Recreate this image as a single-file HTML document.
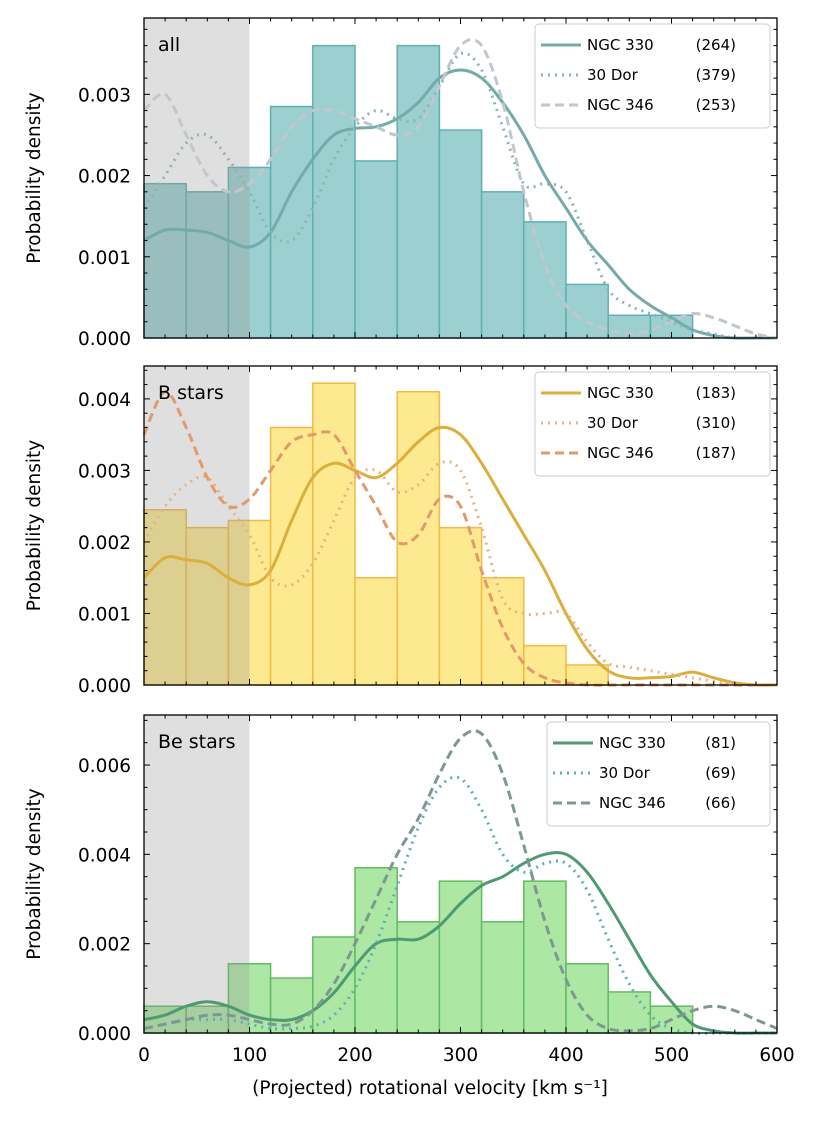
<!DOCTYPE html>
<html><head><meta charset="utf-8"><style>
body{margin:0;background:#fff;}
svg{display:block;font-family:"DejaVu Sans","Liberation Sans",sans-serif;}
</style></head><body>
<svg id="fig" width="823" height="1134" viewBox="0 0 823 1134" xmlns="http://www.w3.org/2000/svg"></svg>
<script>
const xGrid=[0,20,40,60,80,100,120,140,160,180,200,220,240,260,280,300,320,340,360,380,400,420,440,460,480,500,520,540,560,580,600];
const binEdges=[0,40,80,120,160,200,240,280,320,360,400,440,480,520];
const xTicks=[0,100,200,300,400,500,600];
// panel 1: all
const histAll=[0.0019,0.0018,0.0021,0.00285,0.0036,0.00218,0.0036,0.00256,0.0018,0.00143,0.00066,0.00028,0.00028];
const allN330=[0.0012,0.00133,0.00133,0.0013,0.0012,0.00112,0.0013,0.0018,0.0022,0.0025,0.00258,0.0026,0.0027,0.0029,0.0032,0.0033,0.0032,0.0029,0.0025,0.002,0.0016,0.0012,0.0009,0.0006,0.0004,0.00025,0.0001,0.00003,0,0,0];
const all30D=[0.0016,0.002,0.0024,0.0025,0.0022,0.0018,0.0013,0.0012,0.0016,0.0022,0.0026,0.0028,0.0027,0.0027,0.0031,0.0035,0.0033,0.0026,0.0019,0.0019,0.0018,0.0012,0.0006,0.0004,0.0003,0.0002,0.0001,0.00005,0,0,0];
const allN346=[0.0028,0.003,0.0025,0.002,0.0018,0.0019,0.0022,0.0026,0.0028,0.0028,0.0027,0.0026,0.0025,0.0026,0.0031,0.0036,0.0036,0.0029,0.0018,0.0009,0.0004,0.0002,0.0001,0.00005,0.0001,0.0002,0.0003,0.00025,0.00015,0.00005,0];
// panel 2: B stars
const histB=[0.00245,0.0022,0.0023,0.0036,0.00422,0.0015,0.0041,0.0022,0.0015,0.00055,0.00028,0,0];
const bN330=[0.0015,0.00178,0.00175,0.0017,0.0015,0.0014,0.0016,0.0023,0.0029,0.0031,0.003,0.0029,0.0031,0.0034,0.0036,0.0035,0.0031,0.0026,0.0021,0.0016,0.001,0.0005,0.0002,0.0001,0.0001,0.00012,0.00018,0.0001,0.00003,0,0];
const b30D=[0.002,0.0025,0.0028,0.0029,0.0025,0.0021,0.0015,0.0014,0.0017,0.0023,0.0029,0.003,0.0027,0.0028,0.0031,0.003,0.0022,0.0012,0.001,0.001,0.001,0.0006,0.0003,0.00025,0.0002,0.00015,0.0001,0.00005,0,0,0];
const bN346=[0.0035,0.0041,0.0036,0.0029,0.0025,0.0026,0.003,0.0034,0.0035,0.0035,0.003,0.0025,0.002,0.0021,0.0026,0.0025,0.0016,0.0008,0.0003,0.0001,0.00003,0,0,0,0,0,0,0,0,0,0];
// panel 3: Be stars
const histBe=[0.0006,0.0006,0.00155,0.00123,0.00215,0.0037,0.00249,0.0034,0.00249,0.0034,0.00155,0.00092,0.0006];
const beN330=[0.0003,0.0004,0.0006,0.0007,0.0006,0.0004,0.0003,0.0003,0.0005,0.0009,0.0015,0.002,0.0021,0.0021,0.0024,0.0029,0.0033,0.0035,0.0038,0.004,0.004,0.0036,0.0029,0.0021,0.0013,0.0007,0.0002,0.00005,0,0,0];
const be30D=[0.0001,0.0002,0.0003,0.0003,0.0003,0.0002,0.0001,0.0001,0.00015,0.0004,0.001,0.002,0.0033,0.0046,0.0055,0.0057,0.005,0.004,0.0036,0.0038,0.0038,0.0032,0.0021,0.0011,0.0004,0.0001,0,0,0,0,0];
const beN346=[0.0001,0.0002,0.0003,0.0004,0.0004,0.0003,0.0002,0.0002,0.0005,0.0011,0.002,0.003,0.004,0.0048,0.0058,0.0066,0.0067,0.0058,0.0042,0.0025,0.0012,0.0004,0.0001,0.00005,0.0001,0.0003,0.0005,0.0006,0.0005,0.0003,0.0001];
const legCounts1=["(264)","(379)","(253)"],legCounts2=["(183)","(310)","(187)"],legCounts3=["(81)","(69)","(66)"];

const NS="http://www.w3.org/2000/svg";
const svg=document.getElementById('fig');
function mk(tag,attrs,parent){const e=document.createElementNS(NS,tag);for(const k in attrs)e.setAttribute(k,attrs[k]);(parent||svg).appendChild(e);return e;}
const X0=144,X1=777;
function xs(v){return X0+(v/600)*(X1-X0);}
function smooth(pts){
 let d="M"+pts[0][0].toFixed(1)+","+pts[0][1].toFixed(1);
 for(let i=0;i<pts.length-1;i++){
  const p0=pts[Math.max(0,i-1)],p1=pts[i],p2=pts[i+1],p3=pts[Math.min(pts.length-1,i+2)];
  const c1=[p1[0]+(p2[0]-p0[0])/6,p1[1]+(p2[1]-p0[1])/6];
  const c2=[p2[0]-(p3[0]-p1[0])/6,p2[1]-(p3[1]-p1[1])/6];
  d+="C"+c1.map(v=>v.toFixed(1)).join(",")+" "+c2.map(v=>v.toFixed(1)).join(",")+" "+p2[0].toFixed(1)+","+p2[1].toFixed(1);
 }
 return d;
}

const panels=[
 {top:18,bot:338,ymax:0.00394,yTicks:[0,0.001,0.002,0.003],minor:0.0002,label:"all",hist:histAll,hf:"#9ccfcf",he:"#5fb0b0",
  series:[allN330,all30D,allN346],cols:["#73abab","#8fb3b3","#c2c7cd"],counts:legCounts1,leg:[535,24,770,128],name:"all"},
 {top:366,bot:685,ymax:0.00446,yTicks:[0,0.001,0.002,0.003,0.004],minor:0.0002,label:"B stars",hist:histB,hf:"#fde98f",he:"#f5b945",
  series:[bN330,b30D,bN346],cols:["#dcae3c","#e3b488","#e29a6a"],counts:legCounts2,leg:[535,372,770,476],name:"b-stars"},
 {top:715,bot:1033,ymax:0.00712,yTicks:[0,0.002,0.004,0.006],minor:0.0005,label:"Be stars",hist:histBe,hf:"#ace8a4",he:"#62bb62",
  series:[beN330,be30D,beN346],cols:["#4f9a72","#5cb0b0","#7d9793"],counts:legCounts3,leg:[547,722,770,826],name:"be-stars"}
];
const dashes=["none","2,5","9,5"];
const names=["NGC 330","30 Dor","NGC 346"];
panels.forEach((p,pi)=>{
 const g=mk('g',{});
 
 
 const ys=v=>p.bot-(v/p.ymax)*(p.bot-p.top);
 p.hist.forEach((h,i)=>{
  if(h<=0)return;
  const r=mk('rect',{x:xs(binEdges[i]),y:ys(h),width:xs(binEdges[i+1])-xs(binEdges[i]),height:p.bot-ys(h),fill:p.hf,stroke:p.he,'stroke-width':1.5},g);
  
  
 });
 const sh=mk('rect',{x:xs(0),y:p.top,width:xs(100)-xs(0),height:p.bot-p.top,fill:"rgb(150,150,150)",'fill-opacity':0.3},g);
 
 
 p.series.forEach((s,si)=>{
  const pts=s.map((v,i)=>[xs(xGrid[i]),ys(v)]);
  const pa=mk('path',{d:smooth(pts),fill:"none",stroke:p.cols[si],'stroke-width':3,'stroke-dasharray':dashes[si],'stroke-linejoin':'round'},g);
  
  
 });
 mk('rect',{x:X0,y:p.top,width:X1-X0,height:p.bot-p.top,fill:"none",stroke:"#000",'stroke-width':1.3},g);
 for(let v=0;v<=600;v+=20){
  const L=v%100===0?6:3.5,x=xs(v);
  mk('line',{x1:x,x2:x,y1:p.bot,y2:p.bot-L,stroke:"#000",'stroke-width':1},g);
  mk('line',{x1:x,x2:x,y1:p.top,y2:p.top+L,stroke:"#000",'stroke-width':1},g);
 }
 for(let v=0;v<=p.ymax+1e-9;v+=p.minor){
  const y=ys(v);
  const major=p.yTicks.some(t=>Math.abs(t-v)<1e-9);
  const L=major?6:3.5;
  mk('line',{x1:X0,x2:X0+L,y1:y,y2:y,stroke:"#000",'stroke-width':1},g);
  mk('line',{x1:X1,x2:X1-L,y1:y,y2:y,stroke:"#000",'stroke-width':1},g);
 }
 p.yTicks.forEach(t=>{
  const tx=mk('text',{x:X0-13,y:ys(t)+7,'text-anchor':'end','font-size':18.5},g);
  tx.textContent=t.toFixed(3);
  
  
 });
 const yt=mk('text',{x:0,y:0,'text-anchor':'middle','font-size':18.5,transform:`translate(40,${(p.top+p.bot)/2}) rotate(-90)`},g);
 yt.textContent="Probability density";
 
 
 const lb=mk('text',{x:158,y:p.top+33,'font-size':19},g);
 lb.textContent=p.label;
 
 
 const [lx,ly,lx2,ly2]=p.leg;
 const lg=mk('g',{},g);
 
 
 mk('rect',{x:lx,y:ly,width:lx2-lx,height:ly2-ly,rx:4,fill:"#fff",'fill-opacity':0.85,stroke:"#ccc"},lg);
 names.forEach((n,i)=>{
  const yy=ly+26+i*30;
  const e=mk('g',{},lg);
  
  
  mk('line',{x1:lx+6,x2:lx+46,y1:yy-5,y2:yy-5,stroke:p.cols[i],'stroke-width':3,'stroke-dasharray':dashes[i]},e);
  const t=mk('text',{x:lx+52,y:yy,'font-size':15},e);t.textContent=n;
  const c=mk('text',{x:lx2-34,y:yy,'font-size':15,'text-anchor':'end'},e);c.textContent=p.counts[i];
 });
});
xTicks.forEach(v=>{
 const t=mk('text',{x:xs(v),y:1061,'text-anchor':'middle','font-size':18.5});
 t.textContent=v;
 
 
});
const xt=mk('text',{x:430,y:1094,'text-anchor':'middle','font-size':18.5});
xt.textContent="(Projected) rotational velocity  [km s\u207B\u00B9]";


</script>
</body></html>
